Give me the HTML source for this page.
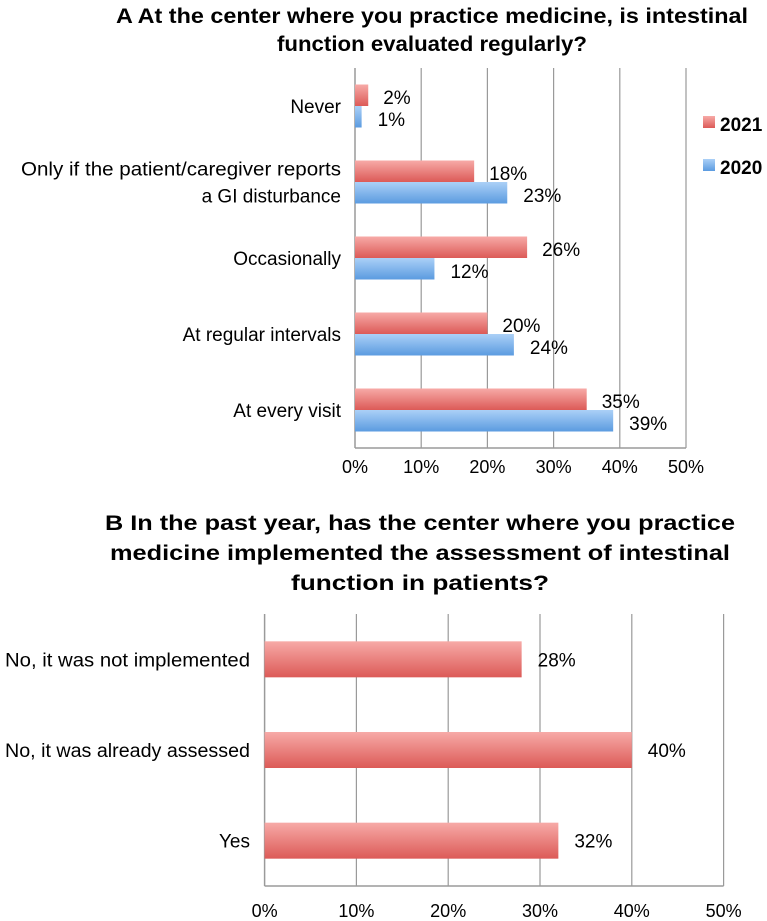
<!DOCTYPE html>
<html><head><meta charset="utf-8"><style>
body{margin:0;background:#fff;}
svg{display:block;font-family:"Liberation Sans",sans-serif;}
</style></head><body>
<svg id="c" width="767" height="921">
<defs>
<linearGradient id="gr" x1="0" y1="0" x2="0" y2="1"><stop offset="0" stop-color="#f7aaa7"/><stop offset="1" stop-color="#dc5a57"/></linearGradient>
<linearGradient id="gb" x1="0" y1="0" x2="0" y2="1"><stop offset="0" stop-color="#abd0f7"/><stop offset="1" stop-color="#5b9be0"/></linearGradient>
</defs>
<text x="432" y="23" text-anchor="middle" font-weight="bold" font-size="21" textLength="632" lengthAdjust="spacingAndGlyphs">A  At the center where you practice medicine, is intestinal</text>
<text x="432" y="51" text-anchor="middle" font-weight="bold" font-size="21" textLength="310" lengthAdjust="spacingAndGlyphs">function evaluated regularly?</text>
<text x="420" y="530" text-anchor="middle" font-weight="bold" font-size="21" textLength="630" lengthAdjust="spacingAndGlyphs">B  In the past year, has the center where you practice</text>
<text x="420" y="560" text-anchor="middle" font-weight="bold" font-size="21" textLength="620" lengthAdjust="spacingAndGlyphs">medicine implemented the assessment of intestinal</text>
<text x="420" y="590" text-anchor="middle" font-weight="bold" font-size="21" textLength="258" lengthAdjust="spacingAndGlyphs">function in patients?</text>
<rect x="703" y="116" width="12" height="12" fill="url(#gr)"/>
<text x="720" y="131" font-weight="bold" font-size="19">2021</text>
<rect x="703" y="159" width="12" height="12" fill="url(#gb)"/>
<text x="720" y="174" font-weight="bold" font-size="19">2020</text>
</svg>
<script>
const catsA=[["Never"],["Only if the patient/caregiver reports","a GI disturbance"],["Occasionally"],["At regular intervals"],["At every visit"]];
const vals2021=[2,18,26,20,35];
const vals2020=[1,23,12,24,39];
const catsB=["No, it was not implemented","No, it was already assessed","Yes"];
const valsB=[28,40,32];
const ticks=[0,10,20,30,40,50];
const svg=document.getElementById('c');
const NS='http://www.w3.org/2000/svg';
function mk(t,a,txt){const e=document.createElementNS(NS,t);for(const k in a)e.setAttribute(k,a[k]);if(txt!==undefined)e.textContent=txt;svg.appendChild(e);return e;}
function fit(e,w){if(e.getComputedTextLength()*1.0<w*0.97||e.getComputedTextLength()>w*1.03){e.setAttribute('textLength',w);e.setAttribute('lengthAdjust','spacingAndGlyphs');}}
// Chart A
const ax=v=>355+v*6.62, aTop=68, aBot=448, aStep=76;
ticks.forEach(t=>{const g=mk('line',{x1:ax(t),x2:ax(t),y1:aTop,y2:aBot,stroke:'#9a9a9a','stroke-width':t===0?1.5:1.2});


const l=mk('text',{x:ax(t),y:473,'text-anchor':'middle','font-size':18},t+'%');

});
const ab=mk('line',{x1:ax(0),x2:ax(50),y1:aBot,y2:aBot,stroke:'#9a9a9a','stroke-width':1.5});


catsA.forEach((c,i)=>{const cy=aTop+aStep*(i+0.5);
const lines=c;lines.forEach((s,j)=>{const y=cy+7+(j-(lines.length-1)/2)*27;
const t=mk('text',{x:341,y:y,'text-anchor':'end','font-size':19},s);


if(s.length>30)fit(t,320);});
const h=21.5;
const r=mk('rect',{x:ax(0),y:cy-h,width:ax(vals2021[i])-ax(0),height:h,fill:'url(#gr)'});


const b=mk('rect',{x:ax(0),y:cy,width:ax(vals2020[i])-ax(0),height:h,fill:'url(#gb)'});


const tr=mk('text',{x:ax(vals2021[i])+15,y:cy-2,'font-size':19},vals2021[i]+'%');


const tb=mk('text',{x:ax(vals2020[i])+16,y:cy+20,'font-size':19},vals2020[i]+'%');

});
// Chart B
const bx=v=>264.6+v*9.18, bTop=614, bBot=886, bStep=(886-614)/3;
ticks.forEach(t=>{const g=mk('line',{x1:bx(t),x2:bx(t),y1:bTop,y2:bBot,stroke:'#9a9a9a','stroke-width':t===0?1.5:1.2});


const l=mk('text',{x:bx(t),y:917,'text-anchor':'middle','font-size':18},t+'%');

});
const bb=mk('line',{x1:bx(0),x2:bx(50),y1:bBot,y2:bBot,stroke:'#9a9a9a','stroke-width':1.5});


catsB.forEach((c,i)=>{const cy=bTop+bStep*(i+0.5);
const t=mk('text',{x:250,y:cy+7,'text-anchor':'end','font-size':19},c);


if(c.length>20)fit(t,245);
const r=mk('rect',{x:bx(0),y:cy-18,width:bx(valsB[i])-bx(0),height:36,fill:'url(#gr)'});


const v=mk('text',{x:bx(valsB[i])+16,y:cy+7,'font-size':19},valsB[i]+'%');

});
</script>
</body></html>
